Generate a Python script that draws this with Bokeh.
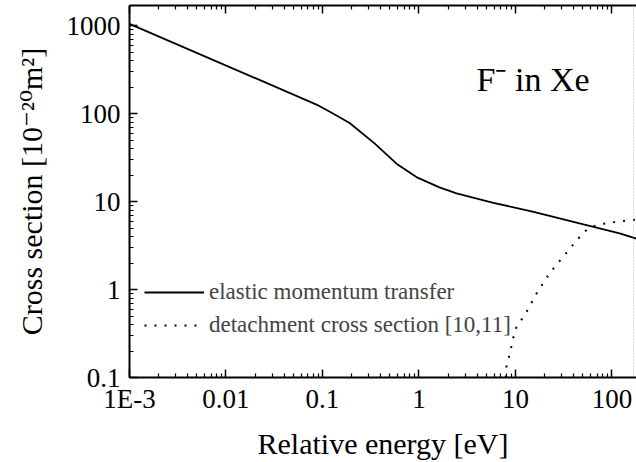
from bokeh.plotting import figure
from bokeh.models import (LogAxis, Label, Legend, LegendItem, CustomJSTickFormatter,
                          FixedTicker, Span)
from bokeh.embed import file_html
from bokeh.resources import INLINE

# ---- data ----
energy_elastic = [0.001, 0.0867, 0.123, 0.191, 0.346, 0.585, 0.94, 1.63, 2.45,
                  5.9, 15.4, 50.7, 120, 179]
sigma_elastic = [1050, 127, 103, 78.5, 46, 27, 19, 14.5, 12.4,
                 9.7, 7.65, 5.5, 4.36, 3.8]

energy_detach = [7.95, 8.07, 8.67, 9.5, 10.2, 13.0, 16.5, 22.5, 33.7, 50.7,
                 59.8, 76, 155, 180]
sigma_detach = [0.1, 0.134, 0.18, 0.284, 0.37, 0.555, 0.90, 1.53, 2.62, 4.48,
                5.12, 5.55, 6.18, 6.25]

x_tick_values = [0.001, 0.01, 0.1, 1, 10, 100]
x_tick_labels = ["1E-3", "0.01", "0.1", "1", "10", "100"]
y_tick_values = [0.1, 1, 10, 100, 1000]
y_tick_labels = ["0.1", "1", "10", "100", "1000"]

x_label = "Relative energy [eV]"
y_label = "Cross section [10\u207b\u00b2\u2070m\u00b2]"
series_names = ["elastic momentum transfer", "detachment cross section [10,11]"]
annotation = "F\u207b in Xe"

FONT = "Liberation Serif"
FONT_SUP = "Liberation Serif, DejaVu Serif"

x_minor = [m * v for v in x_tick_values for m in range(2, 10)]
y_minor = [m * v for v in y_tick_values for m in range(2, 10)]

fmt_code = """
for (let i = 0; i < vals.length; i++) {
  if (Math.abs(Math.log10(tick) - Math.log10(vals[i])) < 1e-6) return labels[i];
}
return "";
"""

p = figure(width=636, height=462, x_axis_type="log", y_axis_type="log",
           x_range=(1e-3, 179.5), y_range=(0.1, 1700),
           output_backend="svg", toolbar_location=None,
           min_border_left=129, min_border_right=0, min_border_top=5,
           min_border_bottom=83)
p.xgrid.visible = False
p.ygrid.visible = False
p.background_fill_color = "white"
p.border_fill_color = "white"
p.outline_line_color = None

xt = FixedTicker(ticks=x_tick_values, minor_ticks=x_minor)
yt = FixedTicker(ticks=y_tick_values, minor_ticks=y_minor)

def style(ax, ticker):
    ax.ticker = ticker
    ax.axis_line_width = 2
    ax.axis_line_color = "black"
    ax.major_tick_in = 8
    ax.major_tick_out = 0
    ax.minor_tick_in = 4
    ax.minor_tick_out = 0
    ax.major_tick_line_width = 1.5
    ax.minor_tick_line_width = 1.2
    ax.major_tick_line_color = "black"
    ax.minor_tick_line_color = "black"
    ax.major_label_text_font = FONT
    ax.major_label_text_color = "black"
    ax.major_label_text_font_size = "27px"
    ax.axis_label_text_font = FONT
    ax.axis_label_text_font_style = "normal"
    ax.axis_label_text_color = "black"
    ax.axis_label_text_font_size = "30px"

xa = p.xaxis[0]
style(xa, xt)
xa.formatter = CustomJSTickFormatter(args=dict(vals=x_tick_values, labels=x_tick_labels), code=fmt_code)
xa.axis_label = x_label
xa.major_label_standoff = 6
xa.axis_label_standoff = 10

ya = p.yaxis[0]
style(ya, yt)
ya.formatter = CustomJSTickFormatter(args=dict(vals=y_tick_values, labels=y_tick_labels), code=fmt_code)
ya.axis_label = y_label
ya.axis_label_text_font = FONT_SUP
ya.major_label_standoff = 9
ya.axis_label_standoff = 16

top = LogAxis()
style(top, xt)
top.formatter = CustomJSTickFormatter(code="return '';")
top.major_label_standoff = 0
top.axis_label_standoff = 0
top.major_label_text_font_size = "1px"
p.add_layout(top, "above")

p.add_layout(Span(location=167, dimension="height", line_color="#b8b8b8",
                  line_width=1, line_dash="1 2"))

r1 = p.line(energy_elastic, sigma_elastic, line_color="black", line_width=1.8)
r2 = p.line(energy_detach, sigma_detach, line_color="black", line_width=2,
            line_dash="2 8")

legend = Legend(items=[LegendItem(label=series_names[0], renderers=[r1]),
                       LegendItem(label=series_names[1], renderers=[r2])],
                location=(15, 38), background_fill_alpha=0, border_line_alpha=0,
                label_text_font=FONT, label_text_font_size="23px",
                glyph_width=60, glyph_height=28, label_height=28, spacing=5,
                padding=0, margin=0, label_standoff=5)
p.add_layout(legend)

p.add_layout(Label(x=3.95, y=242, text=annotation, text_font=FONT,
                   text_font_size="34px", text_color="black",
                   text_baseline="alphabetic"))

open("out.html", "w").write(file_html(p, INLINE))
